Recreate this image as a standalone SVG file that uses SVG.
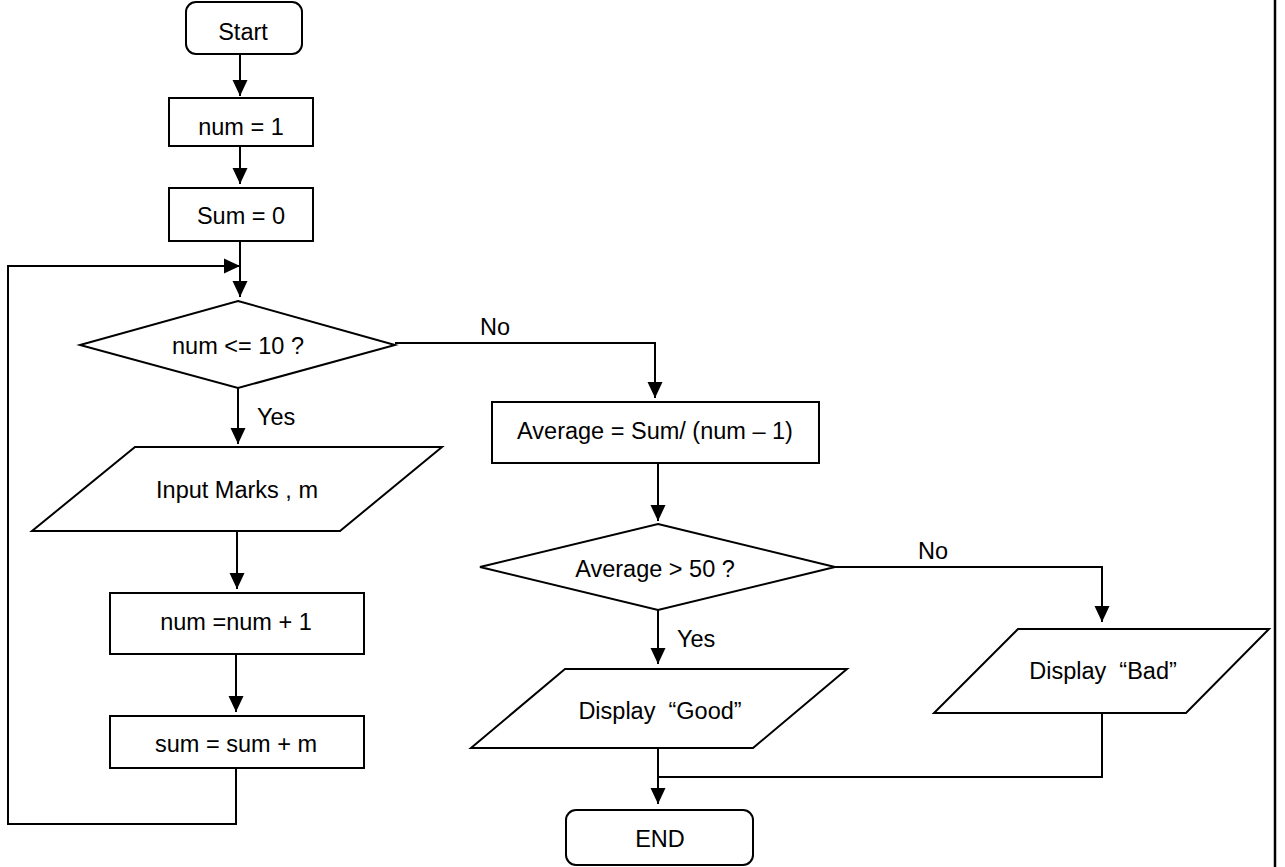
<svg xmlns="http://www.w3.org/2000/svg" width="1285" height="867" viewBox="0 0 1285 867">
<style>
.s{fill:#fff;stroke:#000;stroke-width:2}
.c{fill:none;stroke:#000;stroke-width:2}
.t{font-family:"Liberation Sans",Arial,sans-serif;font-size:23.5px;fill:#000;text-anchor:middle;dominant-baseline:central;white-space:pre}
.l{font-family:"Liberation Sans",Arial,sans-serif;font-size:23.5px;fill:#000}
</style>
<defs>
<marker id="ah" markerUnits="userSpaceOnUse" markerWidth="16" markerHeight="16" viewBox="0 0 16 16" refX="16" refY="8" orient="auto">
<path d="M0,0.5 L16,8 L0,15.5 Z" fill="#000"/>
</marker>
</defs>
<rect width="1285" height="867" fill="#fff"/>
<g id="connectors">
<line class="c" x1="240" y1="54" x2="240" y2="96" marker-end="url(#ah)"/>
<line class="c" x1="240" y1="146" x2="240" y2="184" marker-end="url(#ah)"/>
<line class="c" x1="240" y1="241" x2="240" y2="297" marker-end="url(#ah)"/>
<polyline class="c" points="236,768 236,824 8,824 8,266 240,266" marker-end="url(#ah)"/>
<line class="c" x1="238" y1="388" x2="238" y2="444" marker-end="url(#ah)"/>
<line class="c" x1="237" y1="531" x2="237" y2="589" marker-end="url(#ah)"/>
<line class="c" x1="236" y1="654" x2="236" y2="712" marker-end="url(#ah)"/>
<polyline class="c" points="395,343 655,343 655,398" marker-end="url(#ah)"/>
<line class="c" x1="658" y1="463" x2="658" y2="521" marker-end="url(#ah)"/>
<polyline class="c" points="835,567 1102,567 1102,622" marker-end="url(#ah)"/>
<line class="c" x1="658" y1="610" x2="658" y2="664" marker-end="url(#ah)"/>
<line class="c" x1="658" y1="748" x2="658" y2="804" marker-end="url(#ah)"/>
<polyline class="c" points="1102,713 1102,777 658,777"/>
<line class="c" x1="1275" y1="0" x2="1275" y2="867" style="stroke-width:2.5"/>
<text class="l" x="480" y="335">No</text>
<text class="l" x="918" y="559">No</text>
<text class="l" x="257" y="425">Yes</text>
<text class="l" x="677" y="647">Yes</text>
</g>
<g id="start"><rect class="s" x="186" y="2" width="116" height="52" rx="10"/><text class="t" x="243" y="32">Start</text></g>
<g id="num1"><rect class="s" x="169" y="98" width="144" height="48"/><text class="t" x="241" y="127">num = 1</text></g>
<g id="sum0"><rect class="s" x="169" y="188" width="144" height="53"/><text class="t" x="241" y="216">Sum = 0</text></g>
<g id="cond1"><polygon class="s" points="238,301 395,345 238,388 80,345"/><text class="t" x="238" y="346">num &lt;= 10 ?</text></g>
<g id="input"><polygon class="s" points="135,447 442,447 340,531 32,531"/><text class="t" x="237" y="490">Input Marks , m</text></g>
<g id="inc"><rect class="s" x="110" y="593" width="254" height="61"/><text class="t" x="236" y="622">num =num + 1</text></g>
<g id="acc"><rect class="s" x="110" y="716" width="254" height="52"/><text class="t" x="236" y="744">sum = sum + m</text></g>
<g id="avg"><rect class="s" x="492" y="402" width="327" height="61"/><text class="t" x="655" y="431">Average = Sum/ (num – 1)</text></g>
<g id="cond2"><polygon class="s" points="658,524 835,567 658,610 480,567"/><text class="t" x="655" y="569">Average &gt; 50 ?</text></g>
<g id="good"><polygon class="s" points="565,669 847,669 753,748 471,748"/><text class="t" x="660" y="711">Display  “Good”</text></g>
<g id="bad"><polygon class="s" points="1018,629 1269,629 1186,713 934,713"/><text class="t" x="1103" y="671">Display  “Bad”</text></g>
<g id="end"><rect class="s" x="566" y="810" width="187" height="55" rx="10"/><text class="t" x="660" y="839">END</text></g>
</svg>
